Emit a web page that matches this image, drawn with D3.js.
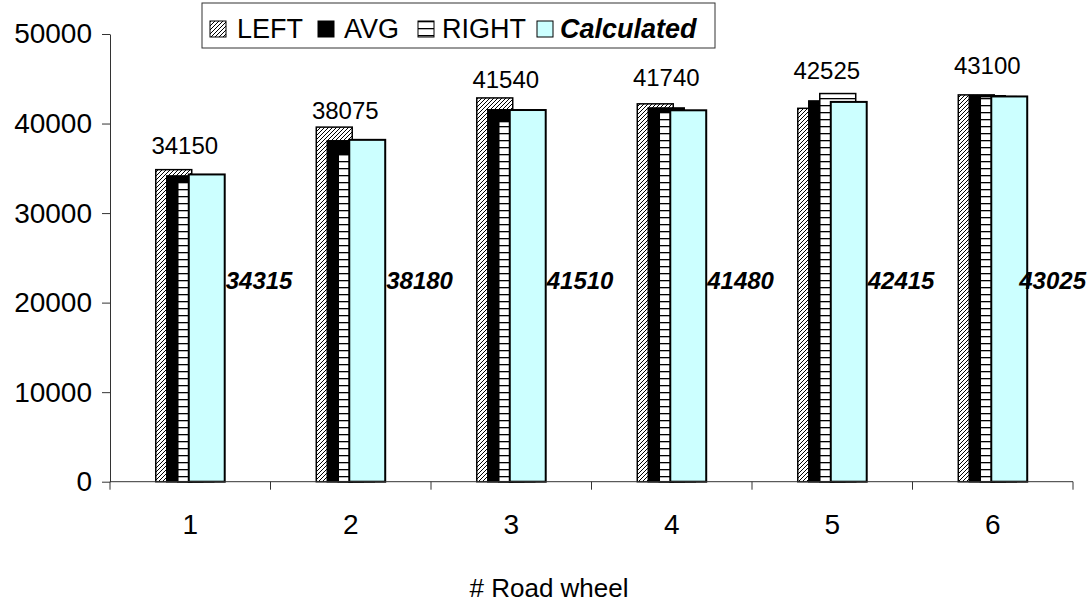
<!DOCTYPE html>
<html>
<head>
<meta charset="utf-8">
<script src="https://cdn.jsdelivr.net/npm/d3@7"></script>
<style>
  html, body { margin: 0; padding: 0; background: #fff; }
  svg { display: block; font-family: "Liberation Sans", Arial, sans-serif; }
</style>
</head>
<body>
<svg id="chart" width="1088" height="603"></svg>
<script>
// ---- data ----
const categories = ["1", "2", "3", "4", "5", "6"];
const seriesNames = ["LEFT", "AVG", "RIGHT", "Calculated"];
const leftValues = [34850, 39600, 42860, 42200, 41700, 43200];
const avgValues = [34150, 38075, 41540, 41740, 42525, 43100];
const rightValues = [33450, 36550, 40220, 41280, 43350, 43000];
const calcValues = [34315, 38180, 41510, 41480, 42415, 43025];
const yTickValues = [0, 10000, 20000, 30000, 40000, 50000];
const xTitle = "# Road wheel";

const svg = d3.select("#chart");
const defs = svg.append("defs");

// hatch pattern (LEFT)
const hatch = defs.append("pattern").attr("id", "hatch")
  .attr("patternUnits", "userSpaceOnUse").attr("width", 4).attr("height", 4);
hatch.append("rect").attr("width", 4).attr("height", 4).attr("fill", "#fff");
hatch.append("path").attr("d", "M-1,1 l2,-2 M0,4 l4,-4 M3,5 l2,-2")
  .attr("stroke", "#000").attr("stroke-width", 1);

// horizontal lines pattern (RIGHT)
const hlines = defs.append("pattern").attr("id", "hlines")
  .attr("patternUnits", "userSpaceOnUse").attr("width", 10).attr("height", 7);
hlines.append("rect").attr("width", 10).attr("height", 7).attr("fill", "#fff");
hlines.append("rect").attr("y", 0).attr("width", 10).attr("height", 1.3).attr("fill", "#000");

const fills = ["url(#hatch)", "#000", "url(#hlines)", "#CCFFFF"];
const strokeW = [1.5, 1.5, 1.5, 2];
const allSeries = [leftValues, avgValues, rightValues, calcValues];

// ---- scales ----
const x = d3.scaleBand().domain(categories).range([110, 1073]).padding(0);
const y = d3.scaleLinear().domain([0, 50000]).range([481.7, 34]);

const bw = x.bandwidth();
const barW = bw * 0.224;
const step = bw * 0.0685;
const groupW = step * 3 + barW;
const barX = (cat, i) => x(cat) + bw / 2 - groupW / 2 + i * step;

// ---- bars ----
allSeries.forEach((vals, i) => {
  svg.append("g").selectAll("rect").data(categories).join("rect")
    .attr("x", (c) => barX(c, i))
    .attr("y", (c, j) => y(vals[j]))
    .attr("width", barW)
    .attr("height", (c, j) => y(0) - y(vals[j]))
    .attr("fill", fills[i])
    .attr("stroke", "#000")
    .attr("stroke-width", strokeW[i]);
});

// ---- y axis ----
const yAxis = d3.axisLeft(y).tickValues(yTickValues).tickSize(8).tickSizeOuter(0)
  .tickPadding(10).tickFormat(d3.format("d"));
const gy = svg.append("g").attr("transform", "translate(110,0)").call(yAxis);
gy.selectAll("text").attr("font-size", 28).attr("fill", "#000")
  .attr("font-family", "'Liberation Sans', Arial, sans-serif");
gy.selectAll("line").attr("stroke", "#333");
gy.select(".domain").attr("stroke", "#333");

// ---- x axis ----
const gx = svg.append("g");
gx.append("line").attr("x1", x.range()[0]).attr("x2", x.range()[1])
  .attr("y1", y(0)).attr("y2", y(0)).attr("stroke", "#333");
const bounds = categories.map((c) => x(c)).concat([x.range()[1]]);
gx.selectAll("line.tk").data(bounds).join("line").attr("class", "tk")
  .attr("x1", (d) => d).attr("x2", (d) => d)
  .attr("y1", y(0)).attr("y2", y(0) + 8).attr("stroke", "#333");
gx.selectAll("text").data(categories).join("text")
  .attr("x", (c) => x(c) + bw / 2).attr("y", 534)
  .attr("text-anchor", "middle").attr("font-size", 28).text((c) => c);

svg.append("text").attr("x", 549).attr("y", 597).attr("text-anchor", "middle")
  .attr("font-size", 26).text(xTitle);

// ---- data labels ----
svg.append("g").selectAll("text").data(categories).join("text")
  .attr("x", (c) => barX(c, 1) + barW / 2)
  .attr("y", (c, j) => y(avgValues[j]) - 22)
  .attr("text-anchor", "middle").attr("font-size", 24)
  .text((c, j) => avgValues[j]);

svg.append("g").selectAll("text").data(categories).join("text")
  .attr("x", (c) => barX(c, 3) + barW + 1)
  .attr("y", y(22500)).attr("dy", "0.35em")
  .attr("font-size", 24).attr("font-weight", "bold").attr("font-style", "italic")
  .text((c, j) => calcValues[j])
  .each(function () {
    const w = this.getComputedTextLength();
    const x0 = +this.getAttribute("x");
    if (x0 + w > 1086) this.setAttribute("x", 1086 - w);
  });

// ---- legend ----
const lg = svg.append("g");
lg.append("rect").attr("x", 202).attr("y", 3).attr("width", 513).attr("height", 45)
  .attr("fill", "#fff").attr("stroke", "#333").attr("stroke-width", 1);
const swatchX = [210, 318, 418, 537];
const textX = [237, 344, 442, 560];
seriesNames.forEach((name, i) => {
  lg.append("rect").attr("x", swatchX[i]).attr("y", 21).attr("width", 16).attr("height", 16)
    .attr("fill", fills[i]).attr("stroke", "#000").attr("stroke-width", 1);
  const t = lg.append("text").attr("x", textX[i]).attr("y", 38).attr("font-size", 27)
    .text(name);
  if (i === 3) t.attr("font-weight", "bold").attr("font-style", "italic");
});
</script>
</body>
</html>
